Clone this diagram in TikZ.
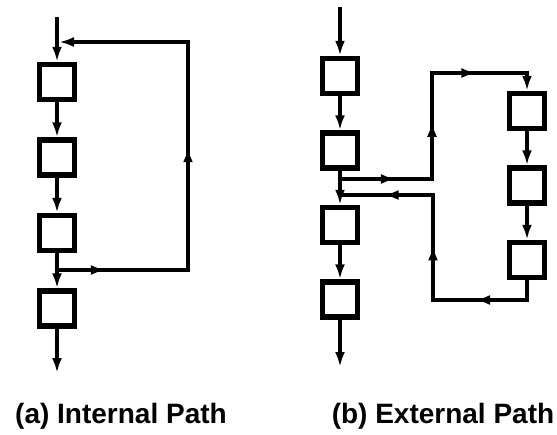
\documentclass[tikz,border=0pt]{standalone}
\usepackage{fontspec}
\setmainfont{Liberation Sans}
\usetikzlibrary{positioning,arrows.meta,decorations.markings}

\begin{document}
\begin{tikzpicture}[x=1pt,y=-1pt,line width=3.5pt,>={Latex[length=15pt,width=10pt]},
  blk/.style={draw,line width=5.5pt,minimum width=35pt,minimum height=35pt,inner sep=0pt},
  flow/.style={decoration=markings,postaction=decorate},
  tip/.style={decoration={mark=at position #1 with {\arrow{>}}}},
  lbl/.style={font=\bfseries\fontsize{28}{32}\selectfont}]
  \useasboundingbox (0,0) rectangle (557,434);
  % (a) internal path
  \node[blk](a1) at (57,82){};
  \node[blk,below=35pt of a1](a2){};
  \node[blk,below=35pt of a2](a3){};
  \node[blk,below=35pt of a3](a4){};
  \coordinate(ain) at (57,17);\coordinate(aout) at (57,373);
  \coordinate(aj) at (57,270);\coordinate(ar) at (188,270);
  \coordinate(at) at (188,42);\coordinate(ae) at (59,42);
  \draw[->](ain)--(a1);\draw[->](a1)--(a2);\draw[->](a2)--(a3);
  \draw[->](a3)--(a4);\draw[->](a4)--(aout);
  \draw[->,flow,tip=.1,tip=.52](aj)--(ar)--(at)--(ae);
  % (b) external path
  \node[blk](b1) at (340,76){};
  \node[blk,below=34pt of b1](b2){};
  \node[blk,below=34pt of b2](b3){};
  \node[blk,below=34pt of b3](b4){};
  \node[blk](b5) at (527,111){};
  \node[blk,below=34pt of b5](b6){};
  \node[blk,below=34pt of b6](b7){};
  \coordinate(bin) at (340,7);\coordinate(bout) at (340,367);
  \coordinate(bo) at (340,179);\coordinate(bo1) at (432,179);
  \coordinate(bo2) at (432,73);\coordinate(bo3) at (527,73);
  \coordinate(br1) at (527,300);\coordinate(br2) at (433,300);
  \coordinate(br3) at (433,195);\coordinate(bre) at (340,195);
  \draw[->](bin)--(b1);\draw[->](b1)--(b2);\draw[->](b2)--(b3);
  \draw[->](b3)--(b4);\draw[->](b4)--(bout);
  \draw[->](b5)--(b6);\draw[->](b6)--(b7);
  \draw[->,flow,tip=.18,tip=.48,tip=.78](bo)--(bo1)--(bo2)--(bo3)--(b5);
  \draw[flow,tip=.23,tip=.54,tip=.86](b7)--(br1)--(br2)--(br3)--(bre);
  % captions
  \node[lbl](la) at (121,416){(a) Internal Path};
  \node[lbl](lb) at (443,416){(b) External Path};
\end{tikzpicture}
\end{document}
